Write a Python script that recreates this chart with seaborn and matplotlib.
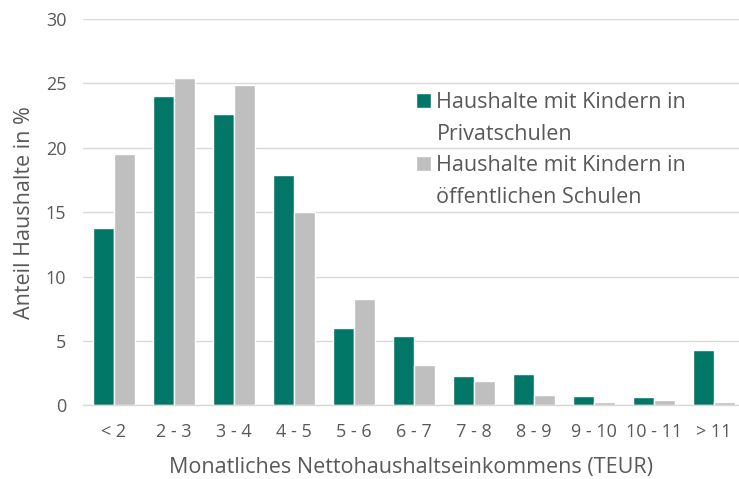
import pandas as pd
import seaborn as sns
import matplotlib.pyplot as plt
from matplotlib.patches import Patch

# income brackets (TEUR) and share of households in %
categories = ["< 2", "2 - 3", "3 - 4", "4 - 5", "5 - 6", "6 - 7", "7 - 8", "8 - 9", "9 - 10", "10 - 11", "> 11"]
privat = [13.8, 24.0, 22.6, 17.9, 6.0, 5.4, 2.3, 2.4, 0.7, 0.65, 4.3]
oeffentlich = [19.5, 25.4, 24.85, 15.0, 8.25, 3.1, 1.9, 0.8, 0.3, 0.45, 0.3]
series_names = ["Privatschulen", "öffentlichen Schulen"]
yticks = [0, 5, 10, 15, 20, 25, 30]

df = pd.DataFrame({
    "Einkommen": categories * 2,
    "Anteil": privat + oeffentlich,
    "Gruppe": [series_names[0]] * len(categories) + [series_names[1]] * len(categories),
})

sns.set_style("white")
plt.rcParams['font.family'] = ['Open Sans', 'DejaVu Sans']
grey = "#595959"

fig = plt.figure(figsize=(7.39, 4.79), dpi=100)
ax = fig.add_axes([0.1123, 0.1537, 0.8877, 0.8066])

sns.barplot(data=df, x="Einkommen", y="Anteil", hue="Gruppe",
            palette=["#037767", "#BFBFBF"], width=0.7, gap=0,
            saturation=1, ax=ax, zorder=2)

ax.set_ylim(0, 30)
ax.set_xlim(-0.51, 10.42)
ax.set_yticks(yticks)
ax.yaxis.grid(True, color="#D9D9D9", linewidth=1, zorder=0)
ax.set_axisbelow(True)
for s in ["top", "right", "left"]:
    ax.spines[s].set_visible(False)
ax.spines["bottom"].set_color("#D9D9D9")
ax.spines["bottom"].set_linewidth(1)
ax.tick_params(axis="y", length=0, pad=12, labelsize=13, labelcolor=grey)
ax.tick_params(axis="x", length=0, pad=13, labelsize=13, labelcolor=grey)

ax.set_xlabel("Monatliches Nettohaushaltseinkommens (TEUR)", fontsize=15.5, color=grey, labelpad=11)
ax.set_ylabel("Anteil Haushalte in %", fontsize=15.5, color=grey, labelpad=8)

# legend: colour square only on the first line of each entry
handles, _ = ax.get_legend_handles_labels()
blank = Patch(facecolor="none", edgecolor="none")
leg_handles = [handles[0], blank, handles[1], blank]
leg_labels = ["Haushalte mit Kindern in", series_names[0], "Haushalte mit Kindern in", series_names[1]]
leg = ax.legend(leg_handles, leg_labels, loc="upper left", bbox_to_anchor=(0.487, 0.848), fontsize=15.5,
                frameon=False, handlelength=0.68, handleheight=0.68,
                handletextpad=0.25, labelspacing=0.5, borderpad=0.15)
for t in leg.get_texts():
    t.set_color(grey)

plt.savefig("out.png", dpi=100)
